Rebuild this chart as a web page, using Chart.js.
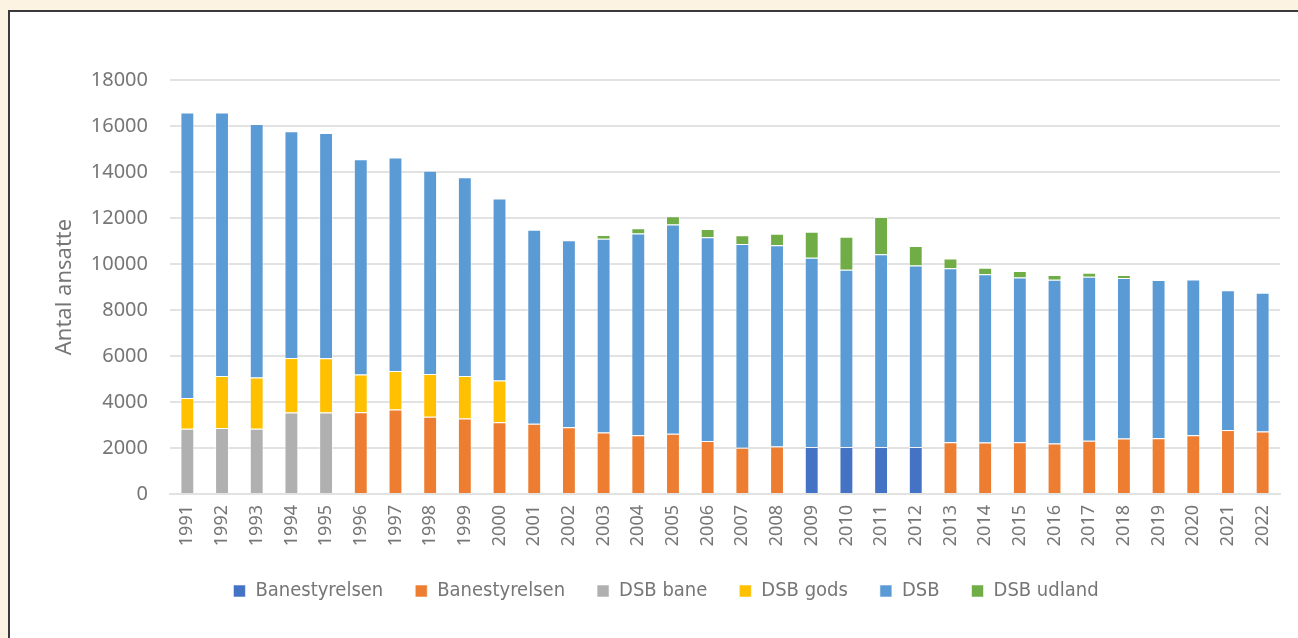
<!DOCTYPE html>
<html>
<head>
<meta charset="utf-8">
<script src="https://cdn.jsdelivr.net/npm/chart.js@4"></script>
<style>
  html, body { margin: 0; padding: 0; }
  body { background: #fdf3e3; width: 1298px; height: 638px; overflow: hidden; position: relative; }
  #panel {
    position: absolute; left: 8px; top: 10px; width: 1300px; height: 640px;
    background: #fff; border-top: 2px solid #3a3a3a; border-left: 2px solid #3a3a3a;
  }
  #wrap { position: absolute; left: 0; top: 0; width: 1288px; height: 626px; }
</style>
</head>
<body>
<div id="panel"><div id="wrap"><canvas id="grafico"></canvas></div></div>
<script>
// år
const aar = ['1991','1992','1993','1994','1995','1996','1997','1998','1999','2000',
  '2001','2002','2003','2004','2005','2006','2007','2008','2009','2010',
  '2011','2012','2013','2014','2015','2016','2017','2018','2019','2020','2021','2022'];

// antal ansatte pr. serie (segmenter i stakken)
const banestyrelsenBlaa = [null,null,null,null,null,null,null,null,null,null,
  null,null,null,null,null,null,null,null,2040,2040,
  2040,2040,null,null,null,null,null,null,null,null,null,null];
const banestyrelsenOrange = [null,null,null,null,null,3550,3670,3360,3280,3120,
  3050,2900,2670,2550,2620,2300,2010,2070,null,null,
  null,null,2250,2240,2250,2200,2320,2410,2420,2550,2780,2720];
const dsbBane = [2840,2870,2840,3540,3540,null,null,null,null,null,
  null,null,null,null,null,null,null,null,null,null,
  null,null,null,null,null,null,null,null,null,null,null,null];
const dsbGods = [1330,2260,2220,2370,2360,1650,1680,1860,1850,1820,
  null,null,null,null,null,null,null,null,null,null,
  null,null,null,null,null,null,null,null,null,null,null,null];
const dsb = [12420,11460,11030,9860,9800,9350,9280,8830,8640,7910,
  8440,8130,8430,8780,9100,8860,8860,8740,8230,7710,
  8380,7900,7560,7310,7160,7120,7130,6980,6880,6780,6080,6030];
const dsbUdland = [null,null,null,null,null,null,null,null,null,null,
  null,null,160,220,360,360,380,510,1130,1430,
  1620,840,430,290,290,200,170,130,null,null,null,null];

const yTicks = [0,2000,4000,6000,8000,10000,12000,14000,16000,18000];

const tekstFarve = '#767676';
const gitterFarve = '#e2e2e2';

function serie(navn, data, farve) {
  return {
    label: navn,
    data: data,
    backgroundColor: farve,
    borderColor: 'rgba(255,255,255,0.55)',
    borderWidth: 1,
    barPercentage: 0.8,
    categoryPercentage: 0.5
  };
}

window.onload = () => {
  const ctx = document.getElementById('grafico').getContext('2d');
  new Chart(ctx, {
    type: 'bar',
    data: {
      labels: aar,
      datasets: [
        serie('Banestyrelsen', banestyrelsenBlaa, '#4472c4'),
        serie('Banestyrelsen', banestyrelsenOrange, '#ed7d31'),
        serie('DSB bane', dsbBane, '#b0b0b0'),
        serie('DSB gods', dsbGods, '#ffc000'),
        serie('DSB', dsb, '#5b9bd5'),
        serie('DSB udland', dsbUdland, '#70ad47')
      ]
    },
    options: {
      responsive: true,
      maintainAspectRatio: false,
      animation: false,
      layout: { padding: { left: 42, right: 18, top: 68, bottom: 27 } },
      scales: {
        x: {
          stacked: true,
          grid: { display: false, drawTicks: false },
          border: { color: gitterFarve, width: 2 },
          ticks: {
            color: tekstFarve,
            font: { family: 'Noto Sans', size: 18 },
            maxRotation: 90, minRotation: 90,
            padding: 11
          },
          afterFit: (s) => { s.height = 55; }
        },
        y: {
          stacked: true,
          min: 0, max: 18000,
          afterBuildTicks: (s) => { s.ticks = yTicks.map(v => ({ value: v })); },
          grid: { color: gitterFarve, lineWidth: 2, drawTicks: false },
          border: { display: false },
          ticks: {
            color: tekstFarve,
            font: { family: 'Noto Sans', size: 20 },
            padding: 22,
            callback: (v) => String(v)
          },
          title: {
            display: true,
            text: 'Antal ansatte',
            color: tekstFarve,
            font: { family: 'Noto Sans', size: 22 },
            padding: { top: 0, bottom: 6 }
          },
          afterFit: (s) => { s.width = 118; }
        }
      },
      plugins: {
        legend: {
          position: 'bottom',
          labels: {
            color: tekstFarve,
            font: { family: "'DejaVu Sans Condensed', Roboto", size: 20 },
            boxWidth: 12,
            boxHeight: 12,
            padding: 32
          }
        },
        tooltip: { enabled: false }
      }
    }
  });
};
</script>
</body>
</html>
